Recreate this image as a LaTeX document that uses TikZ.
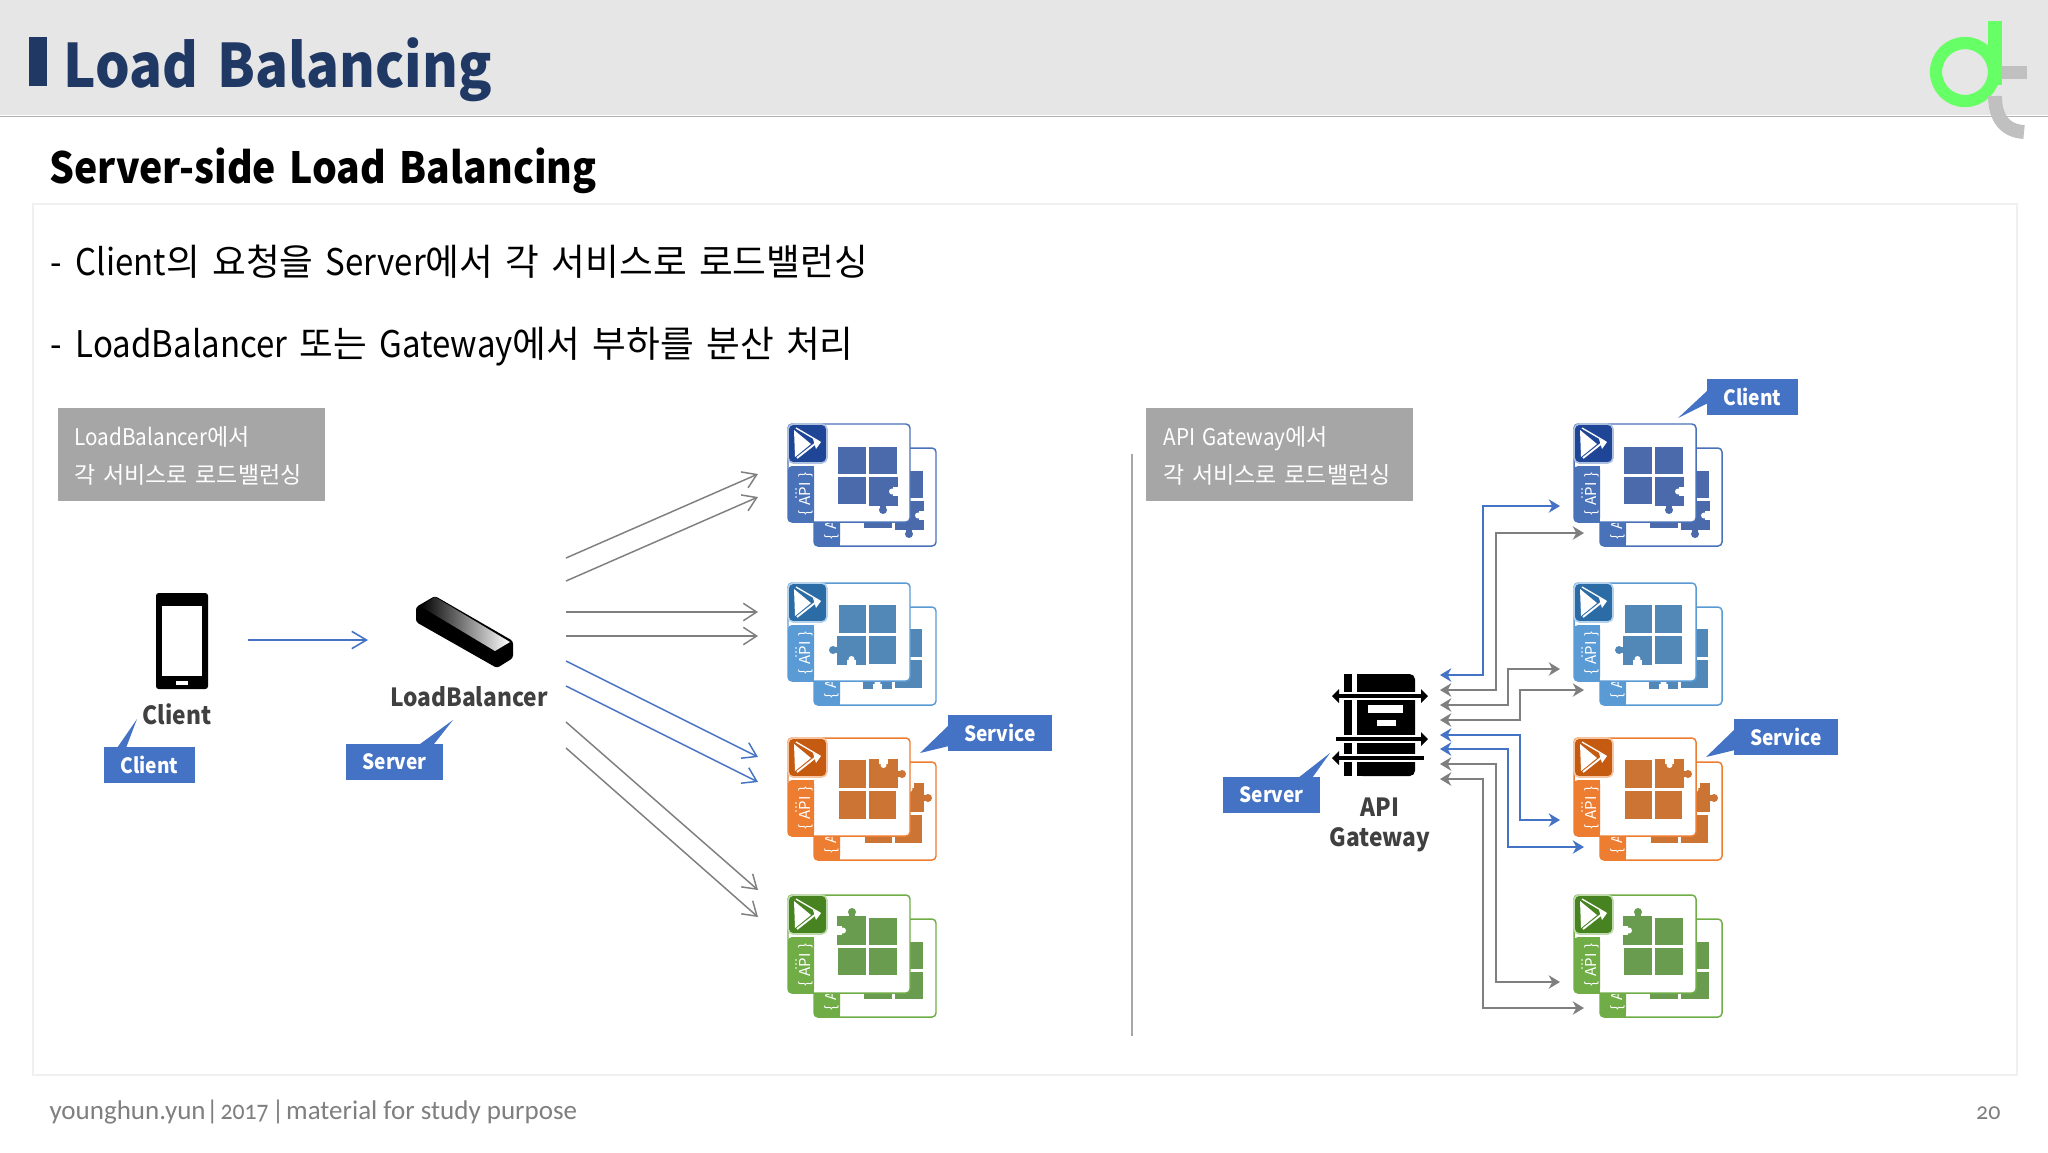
\documentclass[tikz,border=0pt]{standalone}
\usepackage{fontspec}
\setmainfont[WordSpace=1.5,BoldFeatures={FakeStretch=0.91}]{Noto Sans CJK KR}
\newfontfamily\lat[FakeStretch=0.9,WordSpace=1.5]{Noto Sans CJK KR}
\newfontfamily\footfont[Numbers=OldStyle]{Carlito}
\newfontfamily\footnum[Numbers=OldStyle,FakeStretch=0.88]{Carlito}
\usetikzlibrary{arrows.meta}
\usetikzlibrary{calc}

\definecolor{bandgray}{HTML}{E6E6E6}
\definecolor{titlenavy}{HTML}{203864}
\definecolor{linkblue}{HTML}{4472C4}
\definecolor{linkgray}{HTML}{7F7F7F}
\definecolor{boxgray}{HTML}{A6A6A6}
\definecolor{logogreen}{HTML}{66FF66}
\definecolor{logogray}{HTML}{C0C0C0}
\definecolor{frameA}{HTML}{4A72B8}
\definecolor{tileA}{HTML}{4A6AAB}
\definecolor{darkA}{HTML}{1F4596}
\definecolor{frameB}{HTML}{5B9BD5}
\definecolor{tileB}{HTML}{5288B8}
\definecolor{darkB}{HTML}{2C6CA6}
\definecolor{frameC}{HTML}{ED7D31}
\definecolor{tileC}{HTML}{CC7433}
\definecolor{darkC}{HTML}{C55A11}
\definecolor{frameD}{HTML}{70AD47}
\definecolor{tileD}{HTML}{6A9C4F}
\definecolor{darkD}{HTML}{478320}

\newcommand{\pxfont}[1]{\fontsize{\dimexpr#1\dimexpr0.375pt\relax\relax}{\dimexpr#1\dimexpr0.45pt\relax\relax}\selectfont}

\tikzset{
    fanline/.style={line width=0.55pt, -{Straight Barb[length=5pt,width=6.5pt,line width=0.55pt]}},
    gwline/.style={line width=0.65pt, {Stealth[length=4.2pt,width=5pt,inset=1.3pt]}-{Stealth[length=4.2pt,width=5pt,inset=1.3pt]}},
    callout/.style={fill=linkblue, text=white, font=\pxfont{21}\bfseries, inner sep=0pt, minimum width=#1*0.375pt, minimum height=36*0.375pt},
    graybox/.style={fill=boxgray, inner sep=0pt, minimum width=267*0.375pt, minimum height=93*0.375pt},
    boxtext/.style={anchor=base west, text=white, font=\pxfont{23}},
    bodytext/.style={anchor=base west, font=\pxfont{36.7}},
    iconlabel/.style={text=black!75, font=\pxfont{25}\bfseries},
    gwbar/.style={line width=1.5pt},
    gwhalo/.style={line width=3pt, white}
}

% one card: name, frame, squares, angle of the puzzle piece
\newcommand{\svccard}[4]{
    \draw[#2, fill=white, line width=0.55pt, rounded corners=1.5pt] (0,0) rectangle (122,98);
    \fill[#2, rounded corners=1.5pt] (0,42) rectangle (26,98);
    \fill[#2] (13,42) rectangle (26,98);
    \node[rotate=90, text=white, font=\pxfont{15}, inner sep=0pt] (#1api) at (17.5,70) {\{ API \}};
    \foreach \doty in {65,69,73}
        \fill[white] (8,\doty) circle (0.9);
    \begin{scope}[rotate around={#4:(79.5,51.5)}]
        \fill[#3] (50,23) rectangle (78,50);
        \fill[#3] (81,23) rectangle (109,50);
        \fill[#3] (50,53) rectangle (78,80);
        \fill[#3] (81,53) rectangle (110,82);
        \fill[#3] (92,82) rectangle (98,86);
        \fill[#3] (95,86) circle (4);
        \fill[white] (105,63) rectangle (111,72);
        \fill[white] (104,67.5) circle (3);
    \end{scope}
}

% two cards and the play icon: name, position, frame, squares, dark, angle
\newcommand{\svcgroup}[6]{
    \begin{scope}[shift={(#2)}]
        \begin{scope}[shift={(26,24)}]
            \svccard{#1back}{#3}{#4}{#6}
        \end{scope}
        \svccard{#1front}{#3}{#4}{#6}
        \draw[#3!45, fill=#5, line width=0.6pt, rounded corners=2pt] (0,0) rectangle (39,39);
        \fill[white] (6,6) -- (23,20) -- (7,33) -- cycle;
        \draw[white, line width=0.5pt] (8,4) -- (32,18);
        \draw[white, line width=0.7pt] (9,34) -- (28,19);
        \fill[white] (25,15) -- (33,18) -- (28,25) -- cycle;
    \end{scope}
}

\begin{document}
\begin{tikzpicture}[x=0.375pt, y=-0.375pt]
    \useasboundingbox (0,0) rectangle (2048,1152);
    \fill[white] (0,0) rectangle (2048,1152);

    \fill[bandgray] (0,0) rectangle (2048,115);
    \draw[black!30, line width=0.5pt] (0,116.5) -- (2048,116.5);
    \fill[titlenavy] (29,37) rectangle (46.5,86);
    \node[anchor=base west, inner sep=0pt, text=titlenavy, font=\pxfont{60}\bfseries] (title) at (63,87) {Load Balancing};

    \draw[logogreen, line width=4.6pt] (1965,72) circle (29);
    \fill[logogreen] (1988,21) rectangle (2002,85);
    \fill[logogray] (2002,66) rectangle (2027,79);
    \draw[logogray, line width=5.2pt] (1995,96) .. controls (1995,118) and (2005,131) .. (2024,132);

    \node[anchor=base west, inner sep=0pt, font=\pxfont{43}\bfseries] (subtitle) at (49,183) {Server-side Load Balancing};
    \draw[black!6, line width=0.5pt] (33,204) rectangle (2017,1075);

    \node[bodytext, inner sep=0pt] (lineA) at (50,275) {{\lat -\kern1pt{} Client}의 요청을 {\lat Server}에서 각 서비스로 로드밸런싱};
    \node[bodytext, inner sep=0pt] (lineB) at (50,357) {{\lat -\kern1pt{} LoadBalancer} 또는 {\lat Gateway}에서 부하를 분산 처리};

    \node[graybox] (boxL) at (191.5,454.5) {};
    \node[boxtext, inner sep=0pt] (boxLa) at (74,445) {{\lat LoadBalancer}에서};
    \node[boxtext, inner sep=0pt] (boxLb) at (74,483) {각 서비스로 로드밸런싱};
    \node[graybox] (boxR) at (1279.5,454.5) {};
    \node[boxtext, inner sep=0pt] (boxRa) at (1163,445) {{\lat API Gateway}에서};
    \node[boxtext, inner sep=0pt] (boxRb) at (1163,483) {각 서비스로 로드밸런싱};

    \draw[boxgray, line width=0.6pt] (1132,454) -- (1132,1036);

    % client
    \fill[black, rounded corners=1pt] (156,593) rectangle (208,689);
    \fill[white] (162,606) rectangle (202,676);
    \fill[white] (176,681) rectangle (188,685);
    \node[iconlabel] (clientlabel) at (177,714) {Client};
    \node[callout=91] (clientcall) at (149.5,765) {Client};
    \fill[linkblue] (117,748) -- (137,719) -- (126,748) -- cycle;

    \coordinate (clientout) at (248,640);
    \coordinate (lbin) at (368,640);
    \draw[line width=0.6pt, linkblue, -{Straight Barb[length=5.5pt,width=6.5pt,line width=0.6pt]}] (clientout) -- (lbin);

    % load balancer
    \fill[black, rounded corners=1pt] (435,596) -- (416,607) -- (416,622) -- (497,668) -- (513,658) -- (513,641) -- cycle;
    \shade[left color=black, middle color=black!45, right color=white] (435,597) -- (420,606) -- (495,651) -- (510,642) -- cycle;
    \node[iconlabel] (lblabel) at (469,697) {LoadBalancer};
    \node[callout=97] (lbcall) at (394.5,761.5) {Server};
    \fill[linkblue] (420,744) -- (453,720) -- (434,744) -- cycle;

    \svcgroup{leftA}{788,424}{frameA}{tileA}{darkA}{0}
    \svcgroup{leftB}{788,583}{frameB}{tileB}{darkB}{-90}
    \svcgroup{leftC}{788,738}{frameC}{tileC}{darkC}{90}
    \svcgroup{leftD}{788,895}{frameD}{tileD}{darkD}{180}

    \svcgroup{rightA}{1574,424}{frameA}{tileA}{darkA}{0}
    \svcgroup{rightB}{1574,583}{frameB}{tileB}{darkB}{-90}
    \svcgroup{rightC}{1574,738}{frameC}{tileC}{darkC}{90}
    \svcgroup{rightD}{1574,895}{frameD}{tileD}{darkD}{180}

    \node[callout=104] (svccallL) at (1000,733) {Service};
    \fill[linkblue] (949,725) -- (920,753) -- (949,746) -- cycle;
    \node[callout=91] (clicallR) at (1752.5,397) {Client};
    \fill[linkblue] (1708,390) -- (1678,418) -- (1708,403) -- cycle;
    \node[callout=104] (svccallR) at (1786,737) {Service};
    \fill[linkblue] (1735,729) -- (1706,757) -- (1735,750) -- cycle;

    % fan of the load balancer
    \foreach \name/\px/\py in {fanA/566/558, fanB/566/581, fanC/566/612, fanD/566/636, fanE/566/661, fanF/566/686, fanG/566/722, fanH/566/748,
                               svcA/758/474, svcB/758/497, svcC/758/612, svcD/758/636, svcE/758/757, svcF/758/782, svcG/758/890, svcH/758/917}
        \coordinate (\name) at (\px,\py);
    \foreach \a/\b/\col in {fanA/svcA/linkgray, fanB/svcB/linkgray, fanC/svcC/linkgray, fanD/svcD/linkgray,
                            fanE/svcE/linkblue, fanF/svcF/linkblue, fanG/svcG/linkgray, fanH/svcH/linkgray}
        \draw[fanline, \col] (\a) -- (\b);

    % gateway
    \fill[black] (1344,674) rectangle (1352,776);
    \fill[black, rounded corners=2pt] (1357,674) rectangle (1415,776);
    \fill[black] (1357,674) rectangle (1370,776);
    \fill[white] (1368,705) rectangle (1403,713);
    \fill[white] (1377,720) rectangle (1396,726);
    \draw[gwhalo] (1333,696) -- (1427,696);
    \draw[gwhalo] (1336,739) -- (1427,739);
    \draw[gwhalo] (1333,758) -- (1424,758);
    \draw[gwbar] (1338,696) -- (1422,696);
    \fill[black] (1332,696) -- (1339,689) -- (1339,703) -- cycle;
    \fill[black] (1428,696) -- (1421,689) -- (1421,703) -- cycle;
    \draw[gwbar] (1336,739) -- (1422,739);
    \fill[black] (1428,739) -- (1421,732) -- (1421,746) -- cycle;
    \draw[gwbar] (1338,758) -- (1424,758);
    \fill[black] (1332,758) -- (1339,751) -- (1339,765) -- cycle;
    \node[iconlabel, align=center] (gwlabel) at (1380,825) {API\\Gateway};
    \node[callout=97] (gwcall) at (1271.5,795) {Server};
    \fill[linkblue] (1298,778) -- (1330,753) -- (1312,778) -- cycle;

    \foreach \name/\px/\py in {gwA/1440/675, gwB/1440/690, gwC/1440/705, gwD/1440/720, gwE/1440/735, gwF/1440/749, gwG/1440/764, gwH/1440/779,
                               tgA/1560/506, tgB/1584/533, tgC/1560/669, tgD/1584/690, tgE/1560/820, tgF/1584/847, tgG/1560/982, tgH/1584/1008}
        \coordinate (\name) at (\px,\py);
    \foreach \a/\b/\knee/\row/\col in {gwA/tgA/1483/506/linkblue, gwB/tgB/1496/533/linkgray, gwC/tgC/1508/669/linkgray, gwD/tgD/1520/690/linkgray,
                                       gwE/tgE/1520/820/linkblue, gwF/tgF/1508/847/linkblue, gwG/tgG/1496/982/linkgray, gwH/tgH/1483/1008/linkgray}
        \draw[gwline, \col] (\a) -| (\knee,\row) -- (\b);

    \node[anchor=base west, inner sep=0pt, text=linkgray, font=\footfont\pxfont{27}] (footL) at (49,1119) {younghun.yun\kern0.2pt|\kern0.7pt{\footnum 2017}\kern1.2pt|\kern0.7pt material for study purpose};
    \node[anchor=base east, inner sep=0pt, text=linkgray, font=\footfont\pxfont{24}] (footR) at (2001,1119) {20};
\end{tikzpicture}
\end{document}
